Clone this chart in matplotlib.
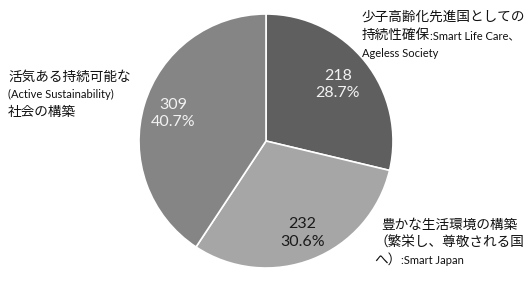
import numpy as np
import matplotlib
matplotlib.use("Agg")
import matplotlib.pyplot as plt

# Data
categories = ["少子高齢化先進国としての持続性確保", "豊かな生活環境の構築", "活気ある持続可能な社会の構築"]
values = [218, 232, 309]
colors = ["#5f5f5f", "#a6a6a6", "#858585"]
value_text_colors = ["#f2f2f2", "#1a1a1a", "#f2f2f2"]
label_radii = [0.72, 0.78, 0.76]

JP = ["Noto Sans CJK JP", "DejaVu Sans"]
EN = ["Lato", "Noto Sans CJK JP", "DejaVu Sans"]

W, H = 528, 282
fig = plt.figure(figsize=(W / 100, H / 100), dpi=100)
cx, cy, r = 266, 141, 127
ax = fig.add_axes([(cx - r) / W, (cy - r) / H, 2 * r / W, 2 * r / H])

wedges, _ = ax.pie(values, colors=colors, startangle=90, counterclock=False,
                   radius=1.0, wedgeprops=dict(edgecolor="white", linewidth=1.2),
                   center=(0, 0), frame=False)
ax.set_xlim(-1, 1)
ax.set_ylim(-1, 1)
ax.set_aspect("auto")
ax.axis("off")

total = sum(values)
for w, v, c, rr in zip(wedges, values, value_text_colors, label_radii):
    ang = np.deg2rad((w.theta1 + w.theta2) / 2)
    x, y = rr * np.cos(ang), rr * np.sin(ang)
    ax.text(x, y, f"{v}\n{v / total * 100:.1f}%", ha="center", va="center",
            color=c, fontsize=11.5, family=EN, linespacing=1.3)

jp_fs = 9.8
en_fs = 8.0
renderer = fig.canvas.get_renderer()


def chain(x, y, parts):
    """Draw text pieces one after another on a common baseline (pixel coords from top-left)."""
    cur_x = x
    for txt, kind in parts:
        fam = JP if kind == "jp" else EN
        fs = jp_fs if kind == "jp" else en_fs
        t = fig.text(cur_x / W, 1 - y / H, txt, ha="left", va="baseline",
                     family=fam, fontsize=fs, color="#111111")
        bb = t.get_window_extent(renderer=renderer)
        cur_x = bb.x1


# Top right label
chain(362, 21, [("少子高齢化先進国としての", "jp")])
chain(362, 39, [("持続性確保", "jp"), (":Smart Life Care、", "en")])
chain(362, 57, [("Ageless Society", "en")])

# Left label
chain(8, 81, [("活気ある持続可能な", "jp")])
chain(8, 98, [("(Active Sustainability)", "en")])
chain(8, 116, [("社会の構築", "jp")])

# Bottom right label
chain(381, 229, [("豊かな生活環境の構築", "jp")])
chain(374, 247, [("（繁栄し、尊敬される国", "jp")])
chain(374, 264, [("へ）", "jp"), (":Smart Japan", "en")])

fig.savefig("out.png", dpi=100, facecolor="white")
